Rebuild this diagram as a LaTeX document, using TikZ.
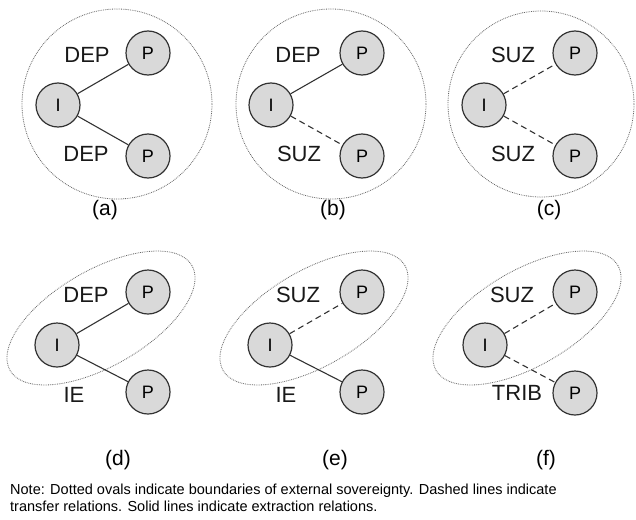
\documentclass[tikz,border=0pt]{standalone}
\usepackage{fontspec}
\setmainfont{Liberation Sans}
\tikzset{
    actor-node/.style = {draw=black!80, fill=black!15, circle, line width=1.2pt, minimum size=44pt, inner sep=0pt, font=\fontsize{18}{20}\selectfont},
    relation-label/.style = {font=\fontsize{22}{24}\selectfont, text=black!90, inner sep=0pt},
    panel-label/.style = {font=\fontsize{21}{23}\selectfont, inner sep=0pt},
    sovereignty/.style = {draw=black!60, densely dotted, line width=0.8pt},
    extraction/.style = {draw=black!80, line width=1.1pt},
    transfer/.style = {draw=black!80, line width=1.1pt, dash pattern=on 6pt off 4pt},
}

\begin{document}
\begin{tikzpicture}[x=1pt, y=-1pt]
\useasboundingbox[fill=white] (0,0) rectangle (636,519);

% (a)
\draw[sovereignty] (117,104) circle (95);
\node[actor-node] (ia) at (58,105) {I};
\node[actor-node] (pa1) at (148,53) {P};
\node[actor-node] (pa2) at (148,156) {P};
\draw[extraction] (ia) -- (pa1);
\draw[extraction] (ia) -- (pa2);
\node[relation-label] (la1) at (87,55) {DEP};
\node[relation-label] (la2) at (86,154) {DEP};
\node[panel-label] (capa) at (105,210) {(a)};

% (b)
\draw[sovereignty] (331,104) circle (95);
\node[actor-node] (ib) at (271,105) {I};
\node[actor-node] (pb1) at (362,53) {P};
\node[actor-node] (pb2) at (362,156) {P};
\draw[extraction] (ib) -- (pb1);
\draw[transfer] (ib) -- (pb2);
\node[relation-label] (lb1) at (298,55) {DEP};
\node[relation-label] (lb2) at (299,154) {SUZ};
\node[panel-label] (capb) at (333,210) {(b)};

% (c)
\draw[sovereignty] (541,104) circle (93);
\node[actor-node] (ic) at (484,105) {I};
\node[actor-node] (pc1) at (575,53) {P};
\node[actor-node] (pc2) at (575,156) {P};
\draw[transfer] (ic) -- (pc1);
\draw[transfer] (ic) -- (pc2);
\node[relation-label] (lc1) at (513,55) {SUZ};
\node[relation-label] (lc2) at (513,154) {SUZ};
\node[panel-label] (capc) at (549,210) {(c)};

% (d)
\draw[sovereignty, rotate around={30:(101,318)}] (101,318) ellipse (105 and 48);
\node[actor-node] (id) at (57,345) {I};
\node[actor-node] (pd1) at (148,292) {P};
\node[actor-node] (pd2) at (148,392) {P};
\draw[extraction] (id) -- (pd1);
\draw[extraction] (id) -- (pd2);
\node[relation-label] (ld1) at (86,295) {DEP};
\node[relation-label] (ld2) at (74,395) {IE};
\node[panel-label] (capd) at (118,460) {(d)};

% (e)
\draw[sovereignty, rotate around={30:(314,318)}] (314,318) ellipse (105 and 48);
\node[actor-node] (ie) at (270,345) {I};
\node[actor-node] (pe1) at (362,292) {P};
\node[actor-node] (pe2) at (362,392) {P};
\draw[transfer] (ie) -- (pe1);
\draw[extraction] (ie) -- (pe2);
\node[relation-label] (le1) at (298,295) {SUZ};
\node[relation-label] (le2) at (286,395) {IE};
\node[panel-label] (cape) at (335,460) {(e)};

% (f)
\draw[sovereignty, rotate around={30:(527,318)}] (527,318) ellipse (105 and 48);
\node[actor-node] (if) at (485,345) {I};
\node[actor-node] (pf1) at (575,292) {P};
\node[actor-node] (pf2) at (575,393) {P};
\draw[transfer] (if) -- (pf1);
\draw[transfer] (if) -- (pf2);
\node[relation-label] (lf1) at (512,295) {SUZ};
\node[relation-label] (lf2) at (517,393) {TRIB};
\node[panel-label] (capf) at (546,460) {(f)};

% note
\node[anchor=north west, align=left, inner sep=0pt, font=\fontsize{14.5}{17}\selectfont] (note) at (10,484) {Note: Dotted ovals indicate boundaries of external sovereignty. Dashed lines indicate\\transfer relations. Solid lines indicate extraction relations.};
\end{tikzpicture}
\end{document}
